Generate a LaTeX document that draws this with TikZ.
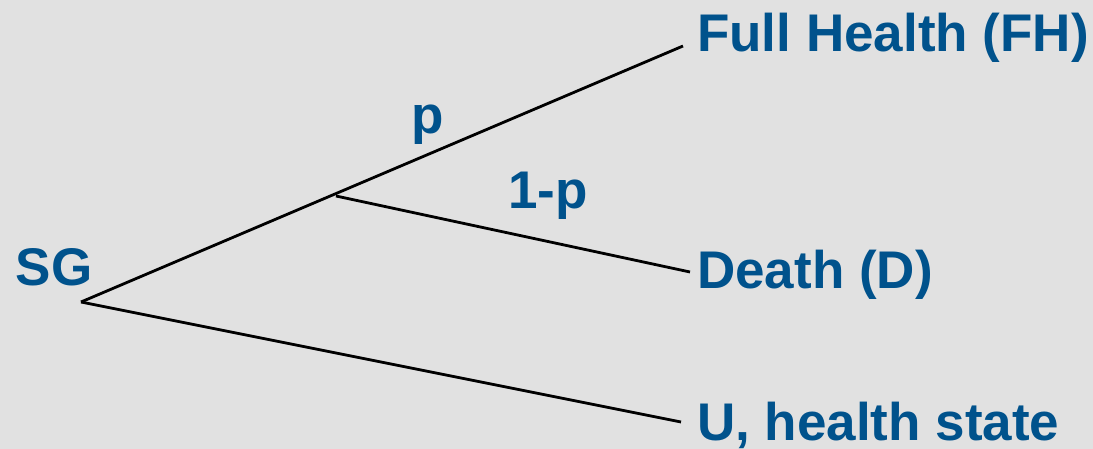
\documentclass[tikz,border=0pt]{standalone}
\usepackage{fontspec}
\setmainfont{Liberation Sans}
\usepackage{tikz}
\usetikzlibrary{positioning}
\definecolor{bgray}{RGB}{225,225,225}
\definecolor{sgblue}{RGB}{0,82,140}

\begin{document}
\begin{tikzpicture}[x=1pt, y=-1pt, font=\fontsize{53}{60}\selectfont\bfseries, lbl/.style={text=sgblue, inner sep=0pt}, leaf/.style={lbl, anchor=base west}, branch/.style={draw=black, line width=2.8pt}]
\fill[bgray] (0,0) rectangle (1093,449);
\useasboundingbox (0,0) rectangle (1093,449);
\coordinate (root) at (81,302);
\coordinate (split) at (336,196);
\node[lbl, anchor=base] (sg) at (54,286) {SG};
\node[leaf] (fh) at (697,52) {Full Health (FH)};
\node[leaf] (death) at (697,288) {Death (D)};
\node[leaf] (ustate) at (697,440) {U, health state};
\node[lbl, anchor=base] (p) at (428,134) {p};
\node[lbl, anchor=base] (q) at (548,209) {1-p};
\draw[branch] (root) -- ([xshift=-14pt, yshift=6pt]fh.base west);
\draw[branch] (split) -- ([xshift=-7pt, yshift=16pt]death.base west);
\draw[branch] (root) -- ([xshift=-16pt, yshift=18pt]ustate.base west);
\end{tikzpicture}
\end{document}
